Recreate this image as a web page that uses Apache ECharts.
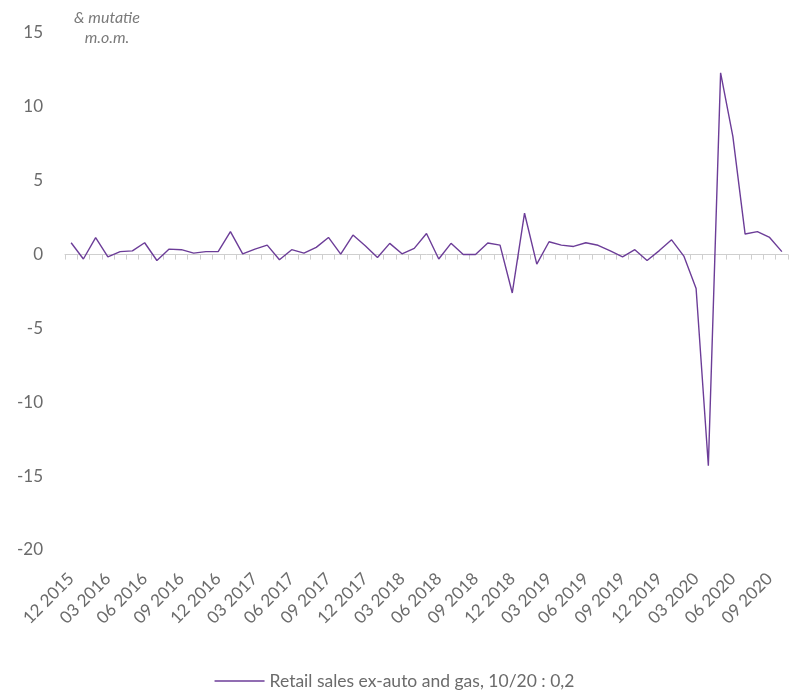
<!DOCTYPE html>
<html>
<head>
<meta charset="utf-8">
<script src="https://cdn.jsdelivr.net/npm/echarts@6/dist/echarts.min.js"></script>
<style>
  html, body { margin: 0; padding: 0; background: #fff; }
  #chart { width: 789px; height: 695px; }
</style>
</head>
<body>
<div id="chart"></div>
<script>
// Monthly periods, December 2015 through October 2020
const months = [
  '12 2015','01 2016','02 2016','03 2016','04 2016','05 2016','06 2016','07 2016','08 2016','09 2016','10 2016','11 2016',
  '12 2016','01 2017','02 2017','03 2017','04 2017','05 2017','06 2017','07 2017','08 2017','09 2017','10 2017','11 2017',
  '12 2017','01 2018','02 2018','03 2018','04 2018','05 2018','06 2018','07 2018','08 2018','09 2018','10 2018','11 2018',
  '12 2018','01 2019','02 2019','03 2019','04 2019','05 2019','06 2019','07 2019','08 2019','09 2019','10 2019','11 2019',
  '12 2019','01 2020','02 2020','03 2020','04 2020','05 2020','06 2020','07 2020','08 2020','09 2020','10 2020'
];

// Retail sales ex-auto and gas, % change month on month
const retailExAutoGas = [
  0.8, -0.3, 1.15, -0.15, 0.2, 0.25, 0.8, -0.4, 0.37, 0.33, 0.1, 0.2,
  0.2, 1.55, 0.05, 0.37, 0.64, -0.35, 0.33, 0.1, 0.49, 1.16, 0.03, 1.32,
  0.6, -0.2, 0.76, 0.05, 0.42, 1.43, -0.3, 0.76, 0.0, 0.0, 0.78, 0.64,
  -2.6, 2.8, -0.65, 0.87, 0.64, 0.55, 0.8, 0.63, 0.25, -0.15, 0.33, -0.4,
  0.27, 1.0, -0.1, -2.3, -14.3, 12.3, 8.0, 1.39, 1.55, 1.16, 0.2
];

const seriesName = 'Retail sales ex-auto and gas, 10/20 : 0,2';
const yAxisTitle = ['& mutatie', 'm.o.m.'];

const FONT = 'Lato, "Open Sans", sans-serif';
const TEXT_COLOR = '#6b6b6b';
const LINE_COLOR = '#6c3d98';

const chart = echarts.init(document.getElementById('chart'), null, { renderer: 'canvas' });

chart.setOption({
  animation: false,
  backgroundColor: '#ffffff',
  textStyle: { fontFamily: FONT },
  grid: { left: 65, right: 1, top: 33, bottom: 145, containLabel: false },
  graphic: [{
    type: 'text',
    x: 107,
    y: 8,
    style: {
      text: yAxisTitle.join('\n'),
      fill: '#7a7a7a',
      font: 'italic 16px ' + FONT,
      align: 'center',
      verticalAlign: 'top',
      lineHeight: 20
    }
  }],
  xAxis: [
    {
      // axis line drawn through zero with ticks between months
      type: 'category',
      data: months,
      boundaryGap: true,
      position: 'bottom',
      axisLine: { show: true, onZero: true, lineStyle: { color: '#cfcfcf', width: 1 } },
      axisTick: { show: true, interval: 0, length: 5, lineStyle: { color: '#cfcfcf' } },
      axisLabel: { show: false },
      splitLine: { show: false }
    },
    {
      // quarterly labels along the bottom edge
      type: 'category',
      data: months,
      boundaryGap: true,
      position: 'bottom',
      axisLine: { show: false, onZero: false },
      axisTick: { show: false },
      axisLabel: {
        show: true,
        interval: 2,
        rotate: 45,
        margin: 26,
        color: TEXT_COLOR,
        fontSize: 17,
        fontFamily: FONT
      },
      splitLine: { show: false }
    }
  ],
  yAxis: {
    type: 'value',
    min: -20,
    max: 15,
    interval: 5,
    axisLine: { show: false },
    axisTick: { show: false },
    splitLine: { show: false },
    axisLabel: { color: TEXT_COLOR, fontSize: 17, fontFamily: FONT, margin: 22 }
  },
  legend: {
    bottom: 0,
    left: 'center',
    icon: 'rect',
    itemWidth: 50,
    itemHeight: 1.5,
    itemGap: 6,
    textStyle: { color: TEXT_COLOR, fontSize: 17.5, fontFamily: FONT },
    data: [seriesName]
  },
  series: [{
    name: seriesName,
    type: 'line',
    xAxisIndex: 0,
    data: retailExAutoGas,
    symbol: 'none',
    smooth: false,
    lineStyle: { color: LINE_COLOR, width: 1.4 },
    itemStyle: { color: LINE_COLOR }
  }]
});
</script>
</body>
</html>
